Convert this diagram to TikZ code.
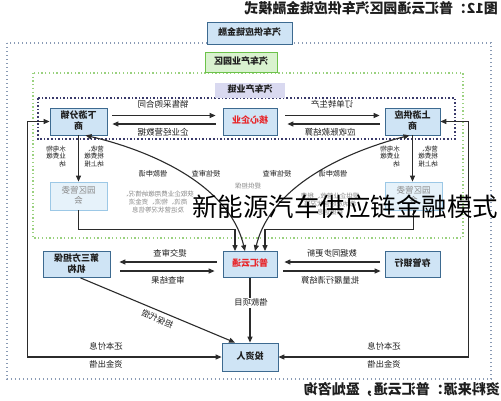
\documentclass[tikz,border=0pt]{standalone}
\usepackage{graphicx}
\usepackage{fontspec}
\setmainfont{Noto Sans CJK SC}
\usetikzlibrary{arrows.meta}
\definecolor{boxfill}{HTML}{CFE4F5}
\definecolor{boxline}{HTML}{3D6A90}
\definecolor{mgfill}{HTML}{E6F2FA}
\definecolor{mgline}{HTML}{9CC8E6}
\definecolor{graytxt}{HTML}{8A8A8A}
\definecolor{greenfill}{HTML}{D9F2CF}
\definecolor{greenline}{HTML}{6CC24A}
\definecolor{purplefill}{HTML}{D9D9F0}
\definecolor{outerc}{HTML}{8A9BB5}
\definecolor{greenc}{HTML}{9AD17F}
\definecolor{navyc}{HTML}{3A3A6A}
\definecolor{linec}{HTML}{2B2B2B}
\definecolor{redtxt}{HTML}{E8262A}
\definecolor{textdark}{HTML}{1E1E1E}
\newcommand\mr[2][c]{\reflectbox{\begin{tabular}{@{}#1@{}}#2\end{tabular}}}
\tikzset{
 box/.style={draw=boxline, fill=boxfill, line width=0.8pt, inner sep=0pt, font=\fontsize{9}{10.5}\selectfont\bfseries, text=textdark},
 redbox/.style={box, text=redtxt},
 mgbox/.style={draw=mgline, fill=mgfill, line width=0.8pt, inner sep=0pt, font=\fontsize{8.5}{10}\selectfont, text=graytxt},
 lbl/.style={font=\fontsize{8.5}{9.5}\selectfont, text=textdark, inner sep=0.5pt},
 plbl/.style={font=\fontsize{8.3}{9.5}\selectfont, text=textdark, inner sep=0.5pt},
 mlbl/.style={font=\fontsize{7.2}{8}\selectfont, text=textdark, inner sep=0.5pt},
 slbl/.style={font=\fontsize{6.5}{7}\selectfont, text=textdark, inner sep=0pt},
 glbl/.style={font=\fontsize{6.5}{7.5}\selectfont, text=graytxt, inner sep=0pt},
 arr/.style={draw=linec, line width=1.1pt, -{Triangle[length=6pt,width=5pt]}},
 dbl/.style={draw=linec, line width=1.1pt, {Triangle[length=6pt,width=5pt]}-{Triangle[length=6pt,width=5pt]}},
 outerdot/.style={draw=outerc, line width=1.3pt, dash pattern=on 1.3pt off 2.7pt},
 greendot/.style={draw=greenc, line width=1.3pt, dash pattern=on 1.3pt off 2.4pt},
 navydot/.style={draw=navyc, line width=1.6pt, dash pattern=on 1.6pt off 2pt},
}
\begin{document}
\begin{tikzpicture}[x=1pt,y=-1pt]
\useasboundingbox (0,0) rectangle (501,400);
\fill[white] (0,0) rectangle (501,400);
% dotted frames
\draw[outerdot] (7,43) rectangle (491,379);
\draw[greendot] (33,73) rectangle (463,238);
\draw[navydot] (38,98) rectangle (455,139);
% title and source
\node[anchor=east, inner sep=0pt, font=\fontsize{13.9}{15}\selectfont\bfseries, text=textdark] (title) at (498,10) {\mr{图12：普汇云通园区汽车供应链金融模式}};
\node[anchor=east, inner sep=0pt, font=\fontsize{14}{15}\selectfont\bfseries, text=textdark] (src) at (500,391) {\mr{资料来源：普汇云通，盈灿咨询}};
% header boxes
\node[box, minimum width=85pt, minimum height=22pt] (fin) at (249.5,33) {\mr{汽车供应链金融}};
\node[box, draw=greenline, fill=greenfill, minimum width=72pt, minimum height=20pt] (park) at (241,62) {\mr{汽车产业园区}};
\node[box, draw=none, fill=purplefill, minimum width=70pt, minimum height=15pt] (chain) at (250,90) {\mr{汽车产业链}};
% chain boxes
\node[box, minimum width=57pt, minimum height=27pt] (down) at (78.5,121.5) {\mr{下游分销\\商}};
\node[redbox, minimum width=54pt, minimum height=27pt] (core) at (250,121.5) {\mr{核心企业}};
\node[box, minimum width=55pt, minimum height=27pt] (up) at (412.5,121.5) {\mr{上游供应\\商}};
% park management
\node[mgbox, minimum width=57pt, minimum height=28pt] (mgL) at (78.5,196) {\mr{园区管委\\会}};
\node[mgbox, minimum width=57pt, minimum height=28pt] (mgR) at (413.5,196) {\mr{园区管委\\会}};
% lower boxes
\node[box, minimum width=67pt, minimum height=26pt] (guar) at (76.5,264.5) {\mr{第三方担保\\机构}};
\node[redbox, minimum width=54pt, minimum height=26pt] (phy) at (250,264.5) {\mr{普汇云通}};
\node[box, minimum width=55pt, minimum height=26pt] (bank) at (412.5,264.5) {\mr{存管银行}};
\node[box, minimum width=56pt, minimum height=28pt] (inv) at (250,357) {\mr{投资人}};
% chain arrows
\draw[arr] ([xshift=5pt,yshift=6pt]down.east) -- ([xshift=-7pt,yshift=6pt]core.west);
\draw[arr] ([xshift=-7pt,yshift=-2.5pt]core.west) -- ([xshift=5pt,yshift=-2.5pt]down.east);
\draw[arr] ([xshift=8pt,yshift=6pt]core.east) -- ([xshift=-5pt,yshift=6pt]up.west);
\draw[arr] ([xshift=-5pt,yshift=-2.5pt]up.west) -- ([xshift=10pt,yshift=-2.5pt]core.east);
\node[lbl] (l1) at (163,105) {\mr{销售采购合同}};
\node[lbl] (l2) at (163,133) {\mr{企业经营数据}};
\node[lbl] (l3) at (332,105) {\mr{订单转生产}};
\node[lbl] (l4) at (330,133) {\mr{应收账款结算}};
% to park management
\draw[arr] (down.south) -- (mgL.north);
\draw[arr] (up.south) -- (up.south |- mgR.north);
\node[slbl] (s1) at (56,157) {\mr[l]{水电物\\业费缴\\纳}};
\node[slbl] (s2) at (94,157) {\mr[l]{营收、\\税费缴\\纳上报}};
\node[slbl] (s3) at (390,157) {\mr[l]{水电物\\业费缴\\纳}};
\node[slbl] (s4) at (428,157) {\mr[l]{营收、\\税费缴\\纳上报}};
% curves
\draw[dbl] ([xshift=7pt]down.south) .. controls (140,148) and (228,180) .. ([xshift=-5pt]phy.north);
\draw[dbl] ([xshift=-3pt]up.south) .. controls (360,148) and (272,180) .. ([xshift=5pt]phy.north);
\node[mlbl] (c1) at (153,175) {\mr{借款申请}};
\node[mlbl] (c2) at (206,175) {\mr{授信审查}};
\node[mlbl] (c3) at (277,175) {\mr{授信审查}};
\node[mlbl] (c4) at (333,175) {\mr{借款申请}};
% management to platform
\draw[arr] (mgL.south) -- ++(0,19) -| ([xshift=-15pt]phy.north);
\draw[arr] (mgR.south) -- ++(0,19) -| ([xshift=15pt]phy.north);
\node[glbl] (g1) at (158,203) {\mr{获取企业费用缴纳情况、\\商流、物流、资金流\\及运营状况等信息}};
\node[glbl] (g2) at (248,187) {\mr{提供担保}};
\node[glbl] (g3) at (330,205) {\mr{提供企业营收、税费\\缴纳及经营状况等\\数据信息}};
% platform arrows
\draw[arr] ([xshift=-6pt,yshift=2.5pt]phy.west) -- ([xshift=9pt,yshift=2.5pt]guar.east);
\draw[arr] ([xshift=10pt,yshift=-6.5pt]guar.east) -- ([xshift=-8pt,yshift=-6.5pt]phy.west);
\draw[arr] ([xshift=-5pt,yshift=2.5pt]bank.west) -- ([xshift=7pt,yshift=2.5pt]phy.east);
\draw[arr] ([xshift=6pt,yshift=-6.5pt]phy.east) -- ([xshift=-4pt,yshift=-6.5pt]bank.west);
\node[plbl] (p1) at (170,254) {\mr{提交审查}};
\node[plbl] (p2) at (168,281) {\mr{审查结果}};
\node[plbl] (p3) at (332,254) {\mr{数据同步更新}};
\node[plbl] (p4) at (330,281) {\mr{批量履行清结算}};
% to investor
\draw[arr] (phy.south) -- (inv.north);
\node[plbl, fill=white] (p5) at (251,303) {\mr{借款项目}};
\draw[arr] ([xshift=4pt]guar.south) -- ([xshift=-15pt]inv.north);
\node[plbl, rotate=-22.7] (p6) at (157,320) {\mr{担保代偿}};
\draw[dbl] (down.west) -- ++(-22,0) |- (inv.west);
\draw[dbl] (up.east) -- ++(28,0) |- (inv.east);
\node[plbl] (b1) at (106,347) {\mr{还本付息}};
\node[plbl] (b2) at (106,365) {\mr{资金出借}};
\node[plbl] (b3) at (384,347) {\mr{还本付息}};
\node[plbl] (b4) at (384,365) {\mr{资金出借}};
% overlay caption
\node[inner sep=0pt, text=black, font=\fontsize{25.5}{28}\selectfont] (ovl) at (345,207) {新能源汽车供应链金融模式};
\end{tikzpicture}
\end{document}
